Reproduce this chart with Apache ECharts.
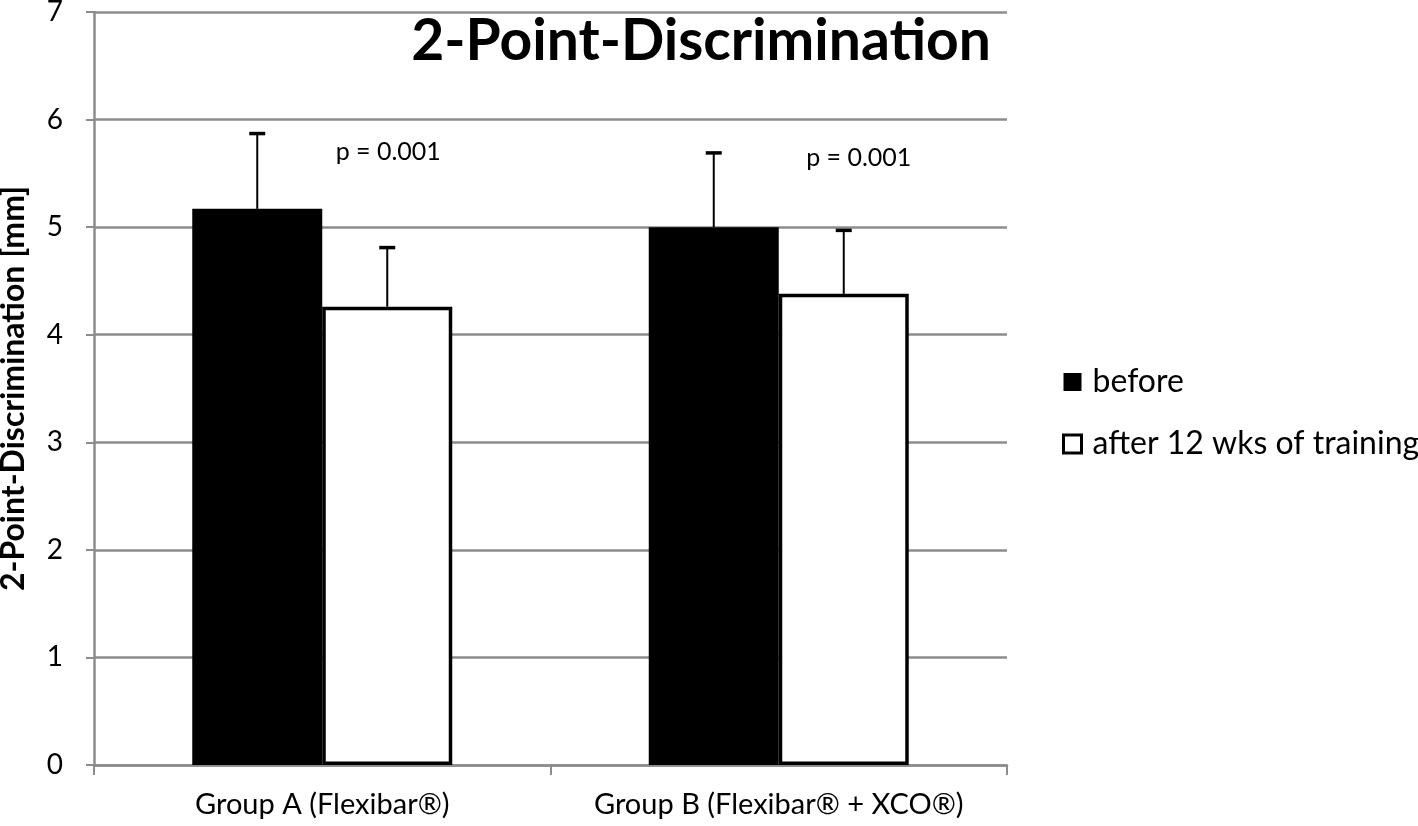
<!DOCTYPE html>
<html><head><meta charset="utf-8">
<script src="https://cdn.jsdelivr.net/npm/echarts@6/dist/echarts.min.js"></script>
<style>html,body{margin:0;padding:0;background:#fff}#c{width:1418px;height:826px}</style>
</head><body><div id="c"></div>
<script>
const categories = ['Group A (Flexibar®)', 'Group B (Flexibar® + XCO®)'];
const beforeVals = [5.17, 5.00];
const afterVals = [4.26, 4.38];
const beforeErrTop = [5.87, 5.69];
const afterErrTop = [4.81, 4.97];
const pLabels = ['p = 0.001', 'p = 0.001'];
const pLabelY = [5.70, 5.64];
const yTicks = [0, 1, 2, 3, 4, 5, 6, 7];

const FONT = 'Lato, "Open Sans", sans-serif';
const GRAY = '#8c8c8c';
const BW = 130;

const chart = echarts.init(document.getElementById('c'), null, {renderer: 'canvas'});

function errSeries(name, tops, vals, offset) {
  return {
    type: 'custom', name: name + '_err', silent: true, z: 1,
    data: tops.map((t, i) => [i, vals[i], t]),
    renderItem: function (params, api) {
      const base = api.coord([api.value(0), api.value(1)]);
      const top = api.coord([api.value(0), api.value(2)]);
      const x = base[0] + offset;
      return {
        type: 'group', children: [
          {type: 'line', shape: {x1: x, y1: base[1], x2: x, y2: top[1]}, style: {stroke: '#000', lineWidth: 2}},
          {type: 'line', shape: {x1: x - 8, y1: top[1], x2: x + 8, y2: top[1]}, style: {stroke: '#000', lineWidth: 3.5}}
        ]
      };
    }
  };
}

chart.setOption({
  animation: false,
  title: {
    text: '2-Point-Discrimination', right: 422, top: 8,
    textStyle: {fontFamily: FONT, fontWeight: 'bold', fontSize: 57, color: '#000'}
  },
  legend: {
    orient: 'vertical', left: 1062, top: 366, itemGap: 30, padding: 0,
    itemWidth: 18, itemHeight: 18, icon: 'rect',
    data: [
      {name: 'before', itemStyle: {color: '#000', borderColor: '#000', borderWidth: 0}},
      {name: 'after 12 wks of training', itemStyle: {color: '#fff', borderColor: '#000', borderWidth: 3}}
    ],
    textStyle: {fontFamily: FONT, fontSize: 32, color: '#000', padding: [0, 0, 0, 6]}
  },
  grid: {left: 94, right: 411, top: 12, bottom: 61, containLabel: false, outerBoundsMode: 'none'},
  xAxis: {
    type: 'category', data: categories,
    axisLine: {lineStyle: {color: GRAY, width: 2.5}},
    axisTick: {show: true, length: 10, lineStyle: {color: GRAY, width: 2}},
    axisLabel: {fontFamily: FONT, fontSize: 29, color: '#000', margin: 25, interval: 0, hideOverlap: false}
  },
  yAxis: {
    type: 'value', min: yTicks[0], max: yTicks[yTicks.length - 1], interval: 1,
    name: '2-Point-Discrimination [mm]', nameLocation: 'middle', nameGap: 64, nameRotate: 90,
    nameTextStyle: {fontFamily: FONT, fontWeight: 'bold', fontSize: 32, color: '#000'},
    axisLine: {show: true, lineStyle: {color: GRAY, width: 2.5}},
    axisTick: {show: true, length: 8, lineStyle: {color: GRAY, width: 2}},
    axisLabel: {fontFamily: FONT, fontSize: 28, color: '#000', margin: 31},
    splitLine: {lineStyle: {color: GRAY, width: 2.5}}
  },
  series: [
    {
      name: 'before', type: 'bar', data: beforeVals, barWidth: BW, barGap: '0%', z: 2,
      itemStyle: {color: '#000', borderColor: '#000', borderWidth: 0}
    },
    {
      name: 'after 12 wks of training', type: 'bar', data: afterVals, barWidth: BW, barGap: '0%', z: 2,
      itemStyle: {color: '#fff', borderColor: '#000', borderWidth: 3.5}
    },
    errSeries('before', beforeErrTop, beforeVals, -BW / 2),
    errSeries('after', afterErrTop, afterVals, BW / 2),
    {
      type: 'custom', name: 'pvals', silent: true, z: 5,
      data: pLabels.map((t, i) => [i, pLabelY[i]]),
      renderItem: function (params, api) {
        const i = api.value(0);
        const p = api.coord([i, api.value(1)]);
        return {
          type: 'text', x: p[0] + BW / 2 + (i === 0 ? 1 : 15), y: p[1],
          style: {text: pLabels[i], fontFamily: 'Lato, sans-serif', fontSize: 25, fill: '#000', align: 'center', verticalAlign: 'middle'}
        };
      }
    }
  ]
});
</script></body></html>
